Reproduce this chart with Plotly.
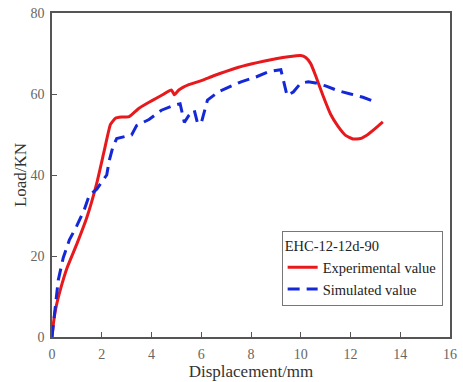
import plotly.graph_objects as go

# Load-displacement curves for specimen EHC-12-12d-90
exp_disp = [0, 0.05, 0.15, 0.35, 0.6, 1.0, 1.4, 1.8, 2.1, 2.35, 2.55, 2.8, 3.1, 3.5, 4.0,
            4.5, 4.8, 4.92, 5.1, 5.5, 6.0, 6.5, 7.0, 7.5, 8.0, 8.5, 9.0, 9.5, 10.0, 10.2,
            10.4, 10.6, 10.9, 11.2, 11.5, 11.8, 12.1, 12.4, 12.7, 13.0, 13.3]
exp_load = [0, 3, 7, 12, 17, 23, 29.5, 38, 46, 52.5, 54, 54.3, 54.4, 56.5, 58.3,
            60, 61, 59.8, 61, 62.3, 63.3, 64.5, 65.6, 66.6, 67.4, 68.1, 68.7, 69.2, 69.5, 69,
            67.5, 64.5, 59.5, 55, 52, 49.8, 48.9, 49, 50, 51.5, 53.1]

sim_disp = [0, 0.1, 0.25, 0.45, 0.7, 1.0, 1.3, 1.5, 1.8, 2.2, 2.3, 2.45, 2.6, 3.2, 3.4,
            3.9, 4.4, 4.9, 5.15, 5.32, 5.5, 5.72, 5.85, 6.0, 6.25, 6.7, 7.2, 7.6, 8.2,
            8.7, 9.2, 9.45, 9.7, 10.0, 10.3, 10.6, 11.0, 11.5, 12.0, 12.5, 12.85]
sim_load = [0, 6, 14, 19.5, 24, 27.5, 31.5, 35, 36.5, 40, 43.5, 47, 49, 49.9, 52.2,
            53.7, 56, 57.2, 57.6, 53, 54.7, 56, 52.8, 52.8, 58.5, 60.6, 62, 63, 64.2,
            65.5, 66, 59.6, 60.5, 62.7, 63, 62.7, 62, 60.8, 60, 59.2, 58.4]

x_ticks = [0, 2, 4, 6, 8, 10, 12, 14, 16]
y_ticks = [0, 20, 40, 60, 80]

serif = "Liberation Serif, Times New Roman, serif"

fig = go.Figure()
fig.add_trace(go.Scatter(x=exp_disp, y=exp_load, mode="lines", name="Experimental value",
                         line=dict(color="#e8191c", width=3, shape="spline", smoothing=0.4)))
fig.add_trace(go.Scatter(x=sim_disp, y=sim_load, mode="lines", name="Simulated value",
                         line=dict(color="#1428d8", width=3, dash="12px,7px")))

axis_common = dict(showline=True, linecolor="#555", linewidth=1.5, mirror=True,
                   ticks="inside", ticklen=5, tickwidth=1.2, tickcolor="#555",
                   showgrid=False, zeroline=False,
                   tickfont=dict(family=serif, size=14, color="#666"))

fig.update_layout(
    width=463, height=382,
    margin=dict(l=52, r=6, t=13, b=45),
    plot_bgcolor="white", paper_bgcolor="white",
    xaxis=dict(range=[0, 16], tickvals=x_ticks, ticklabelstandoff=3,
               title=dict(text="Displacement/mm", standoff=2,
                          font=dict(family=serif, size=17, color="#333")),
               **axis_common),
    yaxis=dict(range=[0, 80], tickvals=y_ticks, ticklabelstandoff=3,
               title=dict(text="Load/KN", standoff=0,
                          font=dict(family=serif, size=17, color="#333")),
               **axis_common),
    legend=dict(x=0.577, y=0.326, xanchor="left", yanchor="top",
                bgcolor="white", bordercolor="#777", borderwidth=1,
                title=dict(text="EHC-12-12d-90", font=dict(family=serif, size=14.5, color="#222")),
                font=dict(family=serif, size=14.5, color="#222"),
                tracegroupgap=0, itemwidth=30),
    showlegend=True,
)

fig.write_html("out.html")
